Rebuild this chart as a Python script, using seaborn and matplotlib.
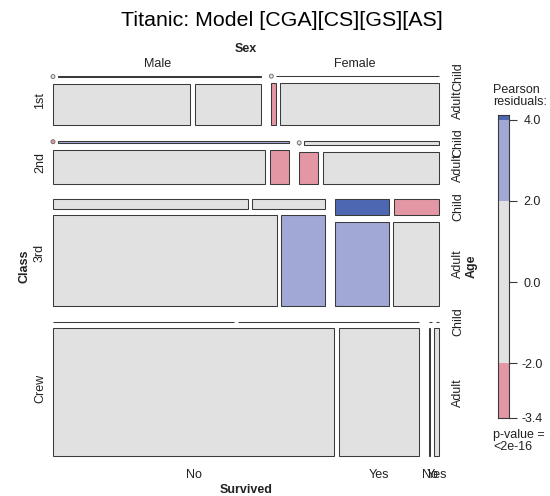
import numpy as np
import matplotlib
matplotlib.use("Agg")
import matplotlib.pyplot as plt
from matplotlib.patches import Rectangle, Circle
import seaborn as sns

# ---- data: Titanic passengers, counts of [No, Yes] survived ----
classes = ["1st", "2nd", "3rd", "Crew"]
sexes = ["Male", "Female"]
ages = ["Child", "Adult"]
survived = ["No", "Yes"]

male_child = [[0, 5], [0, 11], [35, 13], [0, 0]]
male_adult = [[118, 57], [154, 14], [387, 75], [670, 192]]
female_child = [[0, 1], [0, 13], [17, 14], [0, 0]]
female_adult = [[4, 140], [13, 80], [89, 76], [3, 20]]

legend_ticks = [-2.0, 0.0, 2.0, 4.0]
title = "Titanic: Model [CGA][CS][GS][AS]"
p_text = "p-value =\n<2e-16"

# ---- style ----
sns.set_theme(style="white")
plt.rcParams["font.family"] = ["Liberation Sans", "DejaVu Sans"]
TXT = "#222222"
EDGE = "#3a3a3a"
GRAY = "#e1e1e1"
LBLUE = "#a2a8d5"
DBLUE = "#4d67b2"
PINK = "#e396a3"
DRED = "#c0485f"

# observed table obs[class, sex, age, survived]
obs = np.zeros((4, 2, 2, 2))
obs[:, 0, 0, :] = male_child
obs[:, 0, 1, :] = male_adult
obs[:, 1, 0, :] = female_child
obs[:, 1, 1, :] = female_adult


def safe_ratio(num, den):
    out = np.zeros_like(den)
    np.divide(num, den, out=out, where=den > 0)
    return out


# expected counts under [CGA][CS][GS][AS] via iterative proportional fitting
fit = np.ones_like(obs)
margins = [(3,), (1, 2), (0, 2), (0, 1)]
for _ in range(500):
    for ax_sum in margins:
        fit = fit * safe_ratio(obs.sum(axis=ax_sum, keepdims=True),
                               fit.sum(axis=ax_sum, keepdims=True))
resid = safe_ratio(obs - fit, np.sqrt(fit))
rmin, rmax = resid.min(), resid.max()


def shade(r):
    if r >= 4:
        return DBLUE
    if r >= 2:
        return LBLUE
    if r <= -4:
        return DRED
    if r <= -2:
        return PINK
    return GRAY


def split(start, length, counts, gap):
    counts = np.asarray(counts, float)
    n = len(counts)
    avail = length - gap * (n - 1)
    tot = counts.sum()
    p = counts / tot if tot > 0 else np.full(n, 1.0 / n)
    sizes = avail * p
    starts = start + np.concatenate([[0.0], np.cumsum(sizes[:-1] + gap)])
    return starts, sizes


fig = plt.figure(figsize=(5.5, 4.96), dpi=100)
ax = fig.add_axes([0, 0, 1, 1])
ax.set_xlim(0, 550)
ax.set_ylim(496, 0)
ax.axis("off")

left, right, top, bottom = 53.0, 439.0, 76.0, 456.0
gap_class, gap_sex, gap_age, gap_surv = 15.2, 10.1, 6.75, 4.5

ys, hs = split(top, bottom - top, obs.sum(axis=(1, 2, 3)), gap_class)
sex_centers, age_centers, surv_centers = None, [], []
for c in range(4):
    xs, ws = split(left, right - left, obs[c].sum(axis=(1, 2)), gap_sex)
    if c == 0:
        sex_centers = xs + ws / 2
    for g in range(2):
        ya, ha = split(ys[c], hs[c], obs[c, g].sum(axis=1), gap_age)
        if g == 1:
            age_centers.append(ya + ha / 2)
        for a in range(2):
            xv, wv = split(xs[g], ws[g], obs[c, g, a], gap_surv)
            if c == 3 and a == 1:
                surv_centers.extend(xv + wv / 2)
            for s in range(2):
                ax.add_patch(Rectangle((xv[s], ya[a]), wv[s], ha[a],
                                       facecolor=shade(resid[c, g, a, s]),
                                       edgecolor=EDGE, linewidth=0.75))
                if obs[c, g, a, s] == 0 and obs[c, g, a].sum() > 0:
                    ax.add_patch(Circle((xv[s], ya[a] + ha[a] / 2), 2.0,
                                        facecolor=shade(resid[c, g, a, s]),
                                        edgecolor="#666666", linewidth=0.6,
                                        zorder=3))

# ---- labels ----
ax.text(282, 26.5, title, ha="center", va="baseline", fontsize=15.4, color="black")
mid_x = (left + right) / 2
mid_y = (top + bottom) / 2
ax.text(mid_x, 52.3, "Sex", ha="center", va="baseline", fontsize=9,
        fontweight="bold", color=TXT)
for name, cx in zip(sexes, sex_centers):
    ax.text(cx, 67.3, name, ha="center", va="baseline", fontsize=9, color=TXT)

ax.text(25, mid_y, "Class", ha="center", va="center", rotation=90, fontsize=9,
        fontweight="bold", color=TXT)
for name, y0, h in zip(classes, ys, hs):
    ax.text(40, y0 + h / 2, name, ha="center", va="center", rotation=90,
            fontsize=9, color=TXT)

ax.text(471.5, mid_y, "Age", ha="center", va="center", rotation=90, fontsize=9,
        fontweight="bold", color=TXT)
for centers in age_centers:
    for name, cy in zip(ages, centers):
        ax.text(458, cy, name, ha="center", va="center", rotation=90,
                fontsize=9, color=TXT)

ax.text(mid_x, 492.7, "Survived", ha="center", va="baseline", fontsize=9,
        fontweight="bold", color=TXT)
for i, cx in enumerate(surv_centers):
    ax.text(cx, 478.3, survived[i % 2], ha="center", va="baseline", fontsize=9,
            color=TXT)

# ---- residual legend ----
ax.text(493, 92.7, "Pearson", ha="left", va="baseline", fontsize=9, color=TXT)
ax.text(493, 105.0, "residuals:", ha="left", va="baseline", fontsize=9, color=TXT)
ax.text(493, 449.5, p_text, ha="left", va="baseline", fontsize=9, color=TXT,
        linespacing=0.95)

bar_top, bar_bot = 115.0, 418.0
lax = fig.add_axes([498 / 550, 1 - bar_bot / 496, 11 / 550, (bar_bot - bar_top) / 496])
lax.set_xlim(0, 1)
lax.set_ylim(rmin, rmax)
bands = [(-99, -4, DRED), (-4, -2, PINK), (-2, 2, GRAY), (2, 4, LBLUE), (4, 99, DBLUE)]
for lo, hi, col in bands:
    lo, hi = max(lo, rmin), min(hi, rmax)
    if hi > lo:
        lax.axhspan(lo, hi, color=col, linewidth=0)
for sp in lax.spines.values():
    sp.set_color(EDGE)
    sp.set_linewidth(0.8)
tick_vals = [rmin] + [t for t in legend_ticks if rmin < t <= rmax]
lax.set_xticks([])
lax.yaxis.tick_right()
lax.set_yticks(tick_vals)
lax.set_yticklabels([f"{v:.1f}" for v in tick_vals])
lax.tick_params(axis="y", direction="out", length=5.5, width=0.8, color=EDGE,
                labelsize=9, labelcolor=TXT, pad=11, right=True, left=False)
for lab in lax.get_yticklabels():
    lab.set_ha("center")

fig.savefig("out.png", dpi=100)
